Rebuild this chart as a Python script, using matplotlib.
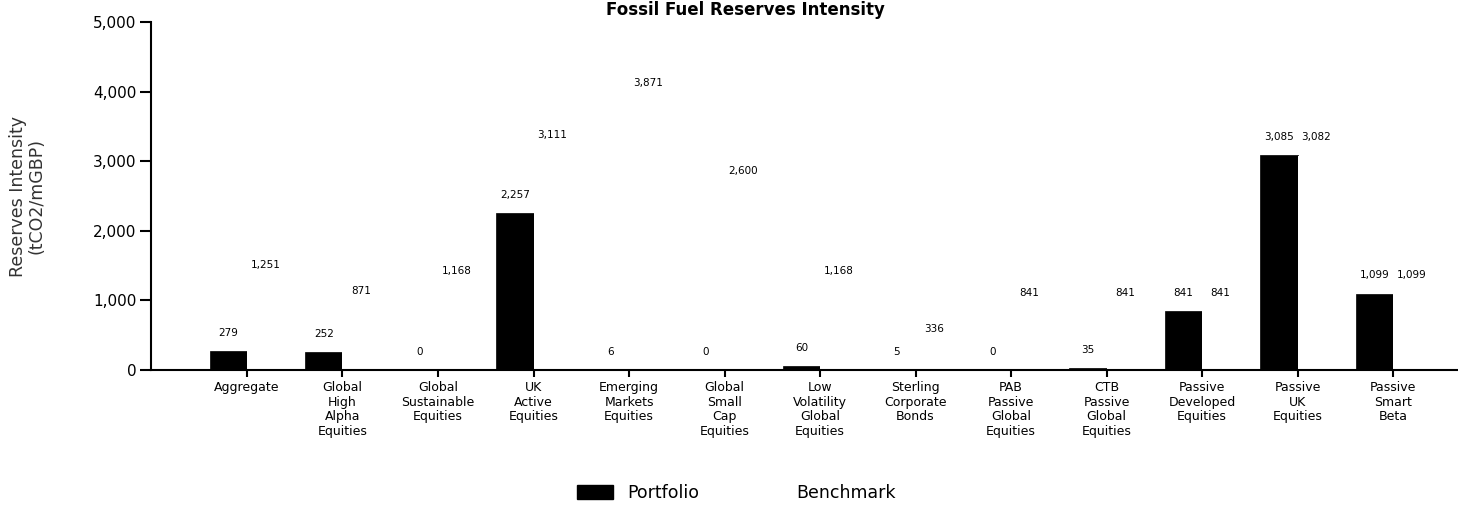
import numpy as np
import matplotlib
matplotlib.use('Agg')
import matplotlib.pyplot as plt
from matplotlib.patches import Patch

plt.rcParams['font.family'] = ['DejaVu Sans']

categories = ['Aggregate', 'Global\nHigh\nAlpha\nEquities', 'Global\nSustainable\nEquities',
              'UK\nActive\nEquities', 'Emerging\nMarkets\nEquities', 'Global\nSmall\nCap\nEquities',
              'Low\nVolatility\nGlobal\nEquities', 'Sterling\nCorporate\nBonds',
              'PAB\nPassive\nGlobal\nEquities', 'CTB\nPassive\nGlobal\nEquities',
              'Passive\nDeveloped\nEquities', 'Passive\nUK\nEquities', 'Passive\nSmart\nBeta']
portfolio = [279, 252, 0, 2257, 6, 0, 60, 5, 0, 35, 841, 3085, 1099]
benchmark = [1251, 871, 1168, 3111, 3871, 2600, 1168, 336, 841, 841, 841, 3082, 1099]
yticks = [0, 1000, 2000, 3000, 4000, 5000]

fig = plt.figure(figsize=(14.58, 5.05), dpi=100)
ax = fig.add_axes([0.1039, 0.2673, 0.8961, 0.6891])

x = np.arange(len(categories))
w = 0.39
ax.bar(x, portfolio, width=-w, align='edge', color='black', edgecolor='black', linewidth=0.5)
ax.bar(x, benchmark, width=w, align='edge', color='white', edgecolor='none')

for i in range(len(x)):
    ax.annotate(f'{portfolio[i]:,}', (x[i] - w / 2, portfolio[i]), xytext=(0, 13),
                textcoords='offset points', ha='center', va='center', fontsize=7.5)
    ax.annotate(f'{benchmark[i]:,}', (x[i] + w / 2, benchmark[i]), xytext=(0, 13),
                textcoords='offset points', ha='center', va='center', fontsize=7.5)

ax.set_xlim(-1, 12.68)
ax.set_ylim(0, 5000)
ax.set_yticks(yticks)
ax.set_yticklabels([f'{v:,}' for v in yticks], fontsize=11)
ax.set_xticks(x)
ax.set_xticklabels(categories, fontsize=9, linespacing=1.15)
ax.tick_params(axis='y', length=8, width=1.5, pad=3)
ax.tick_params(axis='x', length=5, width=1.5, pad=3)

for s in ['top', 'right']:
    ax.spines[s].set_visible(False)
for s in ['left', 'bottom']:
    ax.spines[s].set_linewidth(1.5)

ax.set_ylabel('Reserves Intensity\n(tCO2/mGBP)', fontsize=12.5, color='#333333', linespacing=1.0)
ax.yaxis.set_label_coords(-0.0815, 0.5)

fig.text(0.511, 0.999, 'Fossil Fuel Reserves Intensity', ha='center', va='top',
         fontsize=12, fontweight='bold')

handles = [Patch(facecolor='black', edgecolor='black', label='Portfolio'),
           Patch(facecolor='white', edgecolor='none', label='Benchmark')]
fig.legend(handles=handles, loc='center', bbox_to_anchor=(0.505, 0.024), ncol=2,
           frameon=False, fontsize=12.5, handlelength=2.1, handleheight=0.9,
           columnspacing=2.7, handletextpad=0.8)

fig.savefig('out.png', dpi=100)
